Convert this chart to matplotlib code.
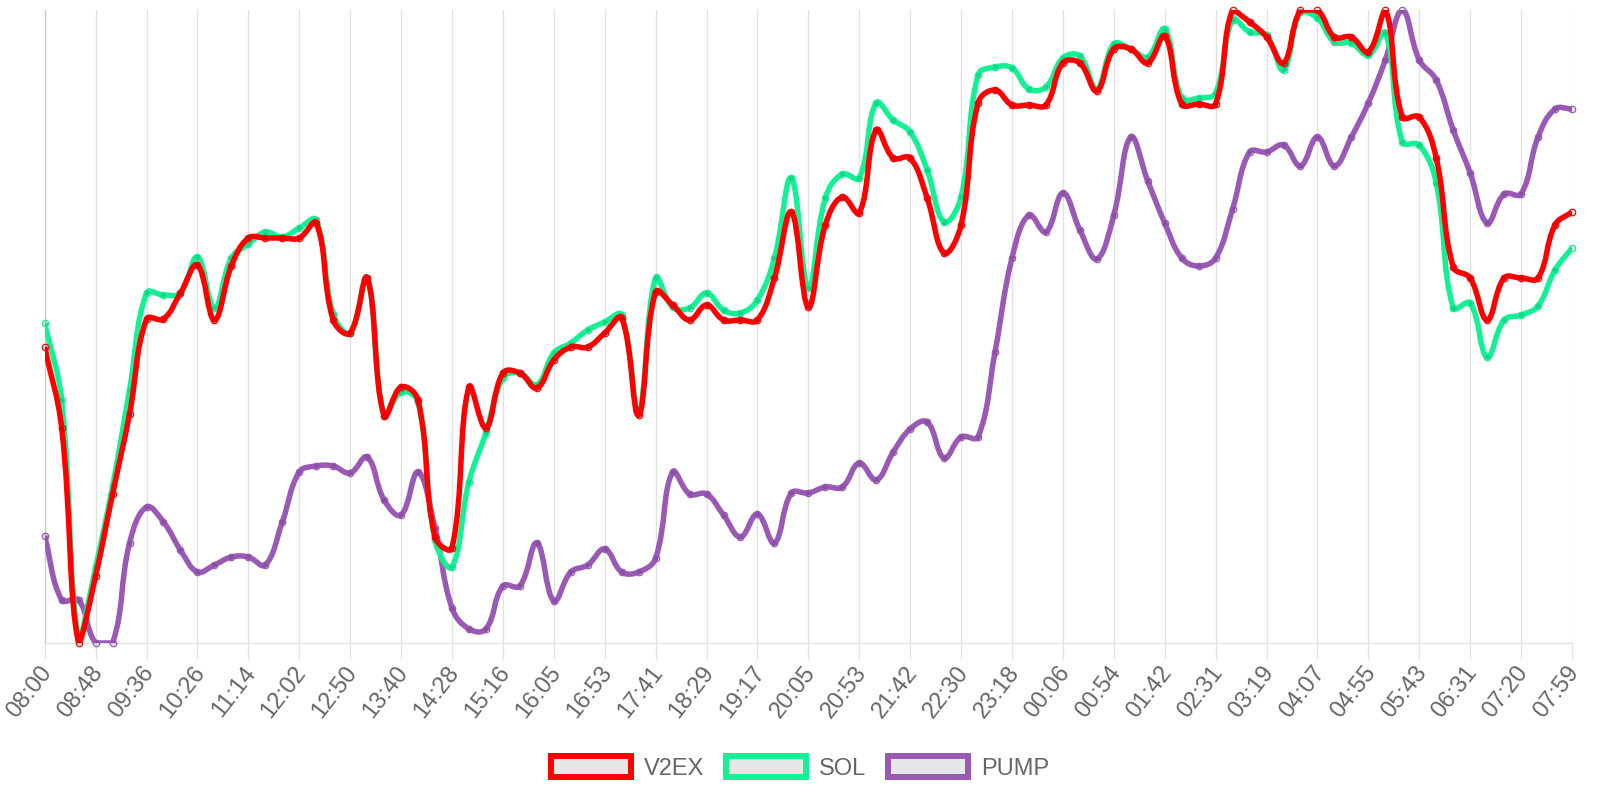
import numpy as np
import matplotlib
matplotlib.use("Agg")
import matplotlib.pyplot as plt
from matplotlib.path import Path
from matplotlib.patches import PathPatch, Patch
import matplotlib.transforms as mtransforms

tick_labels = ["08:00", "08:48", "09:36", "10:26", "11:14", "12:02", "12:50", "13:40",
               "14:28", "15:16", "16:05", "16:53", "17:41", "18:29", "19:17", "20:05",
               "20:53", "21:42", "22:30", "23:18", "00:06", "00:54", "01:42", "02:31",
               "03:19", "04:07", "04:55", "05:43", "06:31", "07:20", "07:59"]

v2ex = [296, 215, 0, 67, 149, 229, 324, 324, 350, 378, 323, 377, 405, 405, 405, 405,
        420, 323, 310, 365, 227, 256, 243, 106, 95, 256, 215, 270, 270, 255, 283, 296,
        296, 310, 325, 228, 351, 338, 323, 338, 323, 323, 323, 365, 431, 336, 418, 446,
        430, 513, 485, 485, 445, 390, 418, 540, 553, 538, 538, 538, 580, 580, 552, 594,
        594, 580, 607, 539, 539, 539, 633, 621, 606, 580, 633, 633, 606, 606, 591, 633,
        526, 526, 485, 376, 365, 323, 365, 365, 365, 418, 431]

sol = [320, 243, 5, 76, 157, 253, 350, 348, 350, 386, 335, 385, 399, 411, 406, 415,
       423, 329, 310, 365, 228, 251, 241, 103, 76, 161, 210, 265, 270, 258, 290, 300,
       313, 321, 328, 230, 365, 336, 335, 350, 333, 330, 343, 385, 465, 355, 445, 469,
       465, 540, 523, 511, 473, 421, 446, 568, 576, 575, 554, 556, 585, 587, 554, 599,
       594, 586, 614, 545, 545, 550, 623, 611, 608, 573, 631, 625, 601, 600, 588, 610,
       501, 498, 460, 335, 340, 286, 323, 328, 337, 373, 395]

pump = [107, 43, 43, 0, 0, 100, 136, 121, 93, 71, 78, 86, 86, 78, 121, 171,
        177, 177, 170, 186, 143, 128, 171, 115, 35, 14, 14, 57, 57, 100, 42, 71,
        78, 94, 71, 71, 85, 171, 149, 149, 128, 106, 129, 100, 150, 150, 156, 156,
        180, 163, 191, 214, 221, 185, 206, 206, 291, 385, 428, 411, 450, 413, 384, 428,
        506, 462, 420, 385, 377, 385, 434, 491, 491, 498, 477, 506, 477, 506, 540, 583,
        633, 583, 563, 513, 470, 420, 449, 449, 506, 534, 534]

series_names = ["V2EX", "SOL", "PUMP"]
series_values = [v2ex, sol, pump]
series_colors = ["#ff0000", "#14f195", "#9b59b6"]

W, H, DPI = 1600, 800, 100
fig = plt.figure(figsize=(W / DPI, H / DPI), dpi=DPI)
left_px, right_px, top_px, bottom_px = 44.7, 1572, 10, 643
ax = fig.add_axes([left_px / W, 1 - bottom_px / H, (right_px - left_px) / W, (bottom_px - top_px) / H])

n = len(v2ex)
x = np.arange(n)
all_vals = np.concatenate([np.array(s, float) for s in series_values])
ymin, ymax = all_vals.min(), all_vals.max()
ax.set_xlim(0, n - 1)
ax.set_ylim(ymin, ymax)


def chart_spline(xd, yd, tension=0.4):
    pts = ax.transData.transform(np.column_stack([xd, yd]))
    bb = ax.bbox
    m = len(pts)
    cp_prev = np.zeros_like(pts)
    cp_next = np.zeros_like(pts)
    for i in range(m):
        prev = pts[i - 1] if i > 0 else pts[i]
        cur = pts[i]
        nxt = pts[i + 1] if i < m - 1 else pts[i]
        d01 = np.hypot(*(cur - prev))
        d12 = np.hypot(*(nxt - cur))
        tot = d01 + d12
        s01 = d01 / tot if tot > 0 else 0
        s12 = d12 / tot if tot > 0 else 0
        fa, fb = tension * s01, tension * s12
        cp_prev[i] = cur - fa * (nxt - prev)
        cp_next[i] = cur + fb * (nxt - prev)
    for arr in (cp_prev, cp_next):
        arr[:, 0] = np.clip(arr[:, 0], bb.x0, bb.x1)
        arr[:, 1] = np.clip(arr[:, 1], bb.y0, bb.y1)
    verts = [pts[0]]
    codes = [Path.MOVETO]
    for i in range(m - 1):
        verts += [cp_next[i], cp_prev[i + 1], pts[i + 1]]
        codes += [Path.CURVE4] * 3
    verts = ax.transData.inverted().transform(np.array(verts))
    return Path(verts, codes)


lw = 5.5 * 72 / DPI
for k in [2, 1, 0]:
    vals = np.array(series_values[k], float)
    col = series_colors[k]
    path = chart_spline(x, vals)
    patch = PathPatch(path, fill=False, edgecolor=col, linewidth=lw, joinstyle="round",
                      capstyle="butt", zorder=3 + (2 - k))
    ax.add_patch(patch)
    ax.plot(x, vals, linestyle="none", marker="o", markersize=6.5 * 72 / DPI,
            markerfacecolor=(0, 0, 0, 0.1), markeredgecolor=col,
            markeredgewidth=1.2 * 72 / DPI, zorder=3.5 + (2 - k), clip_on=False)

# grid and axes
grid_col = "#e1e1e1"
ax.set_xticks(x[::3])
ax.set_xticklabels(tick_labels)
ax.xaxis.grid(True, color=grid_col, linewidth=1.3 * 72 / DPI)
ax.yaxis.grid(False)
ax.set_yticks([])
for s in ["top", "right"]:
    ax.spines[s].set_visible(False)
ax.spines["bottom"].set_color(grid_col)
ax.spines["bottom"].set_linewidth(1.3 * 72 / DPI)
ax.spines["left"].set_color("#c9c9c9")
ax.spines["left"].set_linewidth(1.3 * 72 / DPI)
ax.tick_params(axis="x", length=16 * 72 / DPI, width=1.3 * 72 / DPI, color=grid_col,
               pad=8 * 72 / DPI, labelsize=17, labelcolor="#666666")
ax.set_axisbelow(True)

offset = mtransforms.ScaledTranslation(3 / DPI, -2 / DPI, fig.dpi_scale_trans)
for lab in ax.get_xticklabels():
    lab.set_fontfamily("Liberation Sans")
    lab.set_rotation(52)
    lab.set_ha("right")
    lab.set_va("center")
    lab.set_rotation_mode("anchor")
    lab.set_transform(lab.get_transform() + offset)

handles = [Patch(facecolor="#e6e6e6", edgecolor=c, linewidth=6 * 72 / DPI) for c in series_colors]
leg = fig.legend(handles, series_names, loc="center", bbox_to_anchor=(0.5, 1 - 768 / H),
                 ncol=3, frameon=False, handlelength=3.4, handleheight=1.0,
                 handletextpad=0.55, columnspacing=0.9,
                 prop={"family": "Liberation Sans", "size": 17})
for t in leg.get_texts():
    t.set_color("#666666")

fig.savefig("out.png", dpi=DPI)
